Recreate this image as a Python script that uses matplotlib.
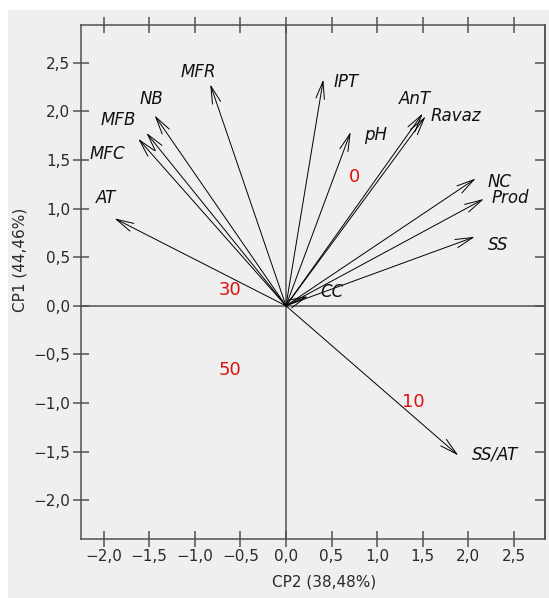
import matplotlib
matplotlib.use("Agg")
import matplotlib.pyplot as plt
from matplotlib.patches import Rectangle
from matplotlib.ticker import FuncFormatter, MultipleLocator, NullFormatter

# ---- data (biplot loadings: CP2 on x, CP1 on y) ----
variables = ["MFR", "NB", "MFB", "MFC", "AT", "IPT", "pH", "AnT", "Ravaz",
             "NC", "Prod", "SS", "CC", "SS/AT"]
cp2 = [-0.83, -1.44, -1.53, -1.62, -1.88, 0.41, 0.71, 1.50, 1.53,
       2.08, 2.17, 2.07, 0.24, 1.89]
cp1 = [2.28, 1.96, 1.78, 1.72, 0.90, 2.33, 1.79, 1.98, 1.95,
       1.31, 1.10, 0.71, 0.10, -1.54]

groups = ["0", "30", "50", "10"]
group_cp2 = [0.75, -0.61, -0.61, 1.40]
group_cp1 = [1.33, 0.165, -0.66, -0.99]

xlabel = "CP2 (38,48%)"
ylabel = "CP1 (44,46%)"

# label offsets in pixels (dx, dy) relative to arrow tips
label_offsets = {
    "MFR": (-12, 12), "NB": (-3, 16), "MFB": (-28, 13), "MFC": (-31, -15),
    "AT": (-8, 20), "IPT": (23, -3), "pH": (25, -3), "AnT": (-8, 14),
    "Ravaz": (30, 0), "NC": (24, -3), "Prod": (26, 1), "SS": (23, -8),
    "CC": (24, 4), "SS/AT": (37, 1),
}

plt.rcParams['font.family'] = ['DejaVu Sans']
BG = "#efefef"
DARK = "#505050"

fig = plt.figure(figsize=(5.49, 5.98), dpi=100, facecolor="white")
fig.patches.append(Rectangle((8 / 549, 0), 1 - 8 / 549, 1 - 10 / 598,
                             transform=fig.transFigure, facecolor=BG,
                             edgecolor="none", zorder=-10))
ax = fig.add_axes([80.7 / 549, 1 - 539 / 598, (545 - 80.7) / 549, (539 - 25) / 598])
ax.set_facecolor(BG)
ax.set_xlim(-2.25, 2.84)
ax.set_ylim(-2.40, 2.89)

for s in ax.spines.values():
    s.set_color(DARK)
    s.set_linewidth(1.1)

ax.axhline(0, color=DARK, lw=1.1, zorder=1)
ax.axvline(0, color=DARK, lw=1.1, zorder=1)

def fmt(v, pos):
    s = f"{abs(v):.1f}".replace(".", ",")
    return ("\u2212" + s) if v < -1e-9 else s

ax.xaxis.set_major_locator(MultipleLocator(0.5))
ax.yaxis.set_major_locator(MultipleLocator(0.5))
ax.xaxis.set_major_formatter(FuncFormatter(fmt))
ax.yaxis.set_major_formatter(FuncFormatter(fmt))
ax.tick_params(axis="both", which="both", direction="inout", length=11,
               width=1.1, color=DARK, labelsize=11, labelcolor="#2a2a2a",
               top=True, right=False, pad=2)

sec = ax.secondary_yaxis("right")
sec.yaxis.set_major_locator(MultipleLocator(0.5))
sec.yaxis.set_major_formatter(NullFormatter())
sec.tick_params(direction="in", length=7, width=1.1, color=DARK)
sec.spines["right"].set_color(DARK)
sec.spines["right"].set_linewidth(1.1)

for name, x, y in zip(variables, cp2, cp1):
    ax.annotate("", xy=(x, y), xytext=(0, 0),
                arrowprops=dict(arrowstyle="->,head_length=0.9,head_width=0.22",
                                lw=0.7, color="black", shrinkA=0, shrinkB=0,
                                mutation_scale=14), zorder=3)
    dx, dy = label_offsets[name]
    ax.annotate(name, xy=(x, y), xytext=(dx, dy), textcoords="offset pixels",
                ha="center", va="center", fontsize=12, style="italic",
                color="#111111", zorder=4)

for g, x, y in zip(groups, group_cp2, group_cp1):
    ax.text(x, y, g, ha="center", va="center", fontsize=13, color="#dd1111",
            zorder=4)

fig.text(324 / 549, 1 - 582 / 598, xlabel, ha="center", va="center",
         fontsize=11, color="#2a2a2a")
fig.text(20 / 549, 1 - 260 / 598, ylabel, ha="center", va="center",
         rotation=90, fontsize=11, color="#2a2a2a")

fig.savefig("out.png", dpi=100, facecolor=fig.get_facecolor())
